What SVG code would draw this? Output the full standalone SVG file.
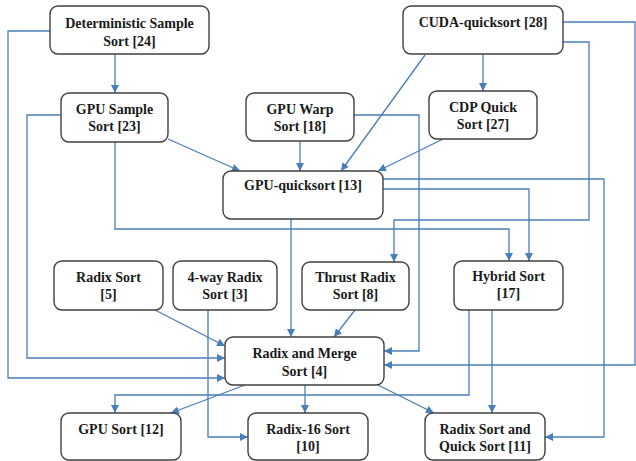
<svg xmlns="http://www.w3.org/2000/svg" width="636" height="461" viewBox="0 0 636 461">
<style>
.n rect{fill:#fff;stroke:#404040;stroke-width:1.4}
.n text{font-family:"Liberation Serif","Times New Roman",serif;font-weight:bold;font-size:14px;fill:#1a1a1a;text-anchor:middle}
.e path{fill:none;stroke:#4a7ebb;stroke-width:1.3}
</style>
<defs>
<marker id="a" markerUnits="userSpaceOnUse" markerWidth="9" markerHeight="8" refX="8" refY="4" orient="auto">
<path d="M0,0 L8,4 L0,8 z" fill="#4a7ebb"/>
</marker>
</defs>
<rect width="636" height="461" fill="#fff"/>
<g class="e">
<path d="M115,54 V93" marker-end="url(#a)"/>
<path d="M50,31 H8 V378 H225" marker-end="url(#a)"/>
<path d="M61,115 H27 V358 H225" marker-end="url(#a)"/>
<path d="M115,142 V229 H509 V261" marker-end="url(#a)"/>
<path d="M168,139 L240,171" marker-end="url(#a)"/>
<path d="M300,141 V171" marker-end="url(#a)"/>
<path d="M354,115 H419 V351 H384" marker-end="url(#a)"/>
<path d="M483,54 V91" marker-end="url(#a)"/>
<path d="M425,55 L341,171" marker-end="url(#a)"/>
<path d="M443,139 L378,171" marker-end="url(#a)"/>
<path d="M563,22 H635 V365 H384" marker-end="url(#a)"/>
<path d="M563,42 H589 V220 H394 V262" marker-end="url(#a)"/>
<path d="M383,179 H604 V437 H545" marker-end="url(#a)"/>
<path d="M383,189 H529 V261" marker-end="url(#a)"/>
<path d="M291,219 V337" marker-end="url(#a)"/>
<path d="M155,310 L225,346" marker-end="url(#a)"/>
<path d="M208,310 V437 H248" marker-end="url(#a)"/>
<path d="M355,310 L334,337" marker-end="url(#a)"/>
<path d="M469,310 V395 H115 V413" marker-end="url(#a)"/>
<path d="M492,310 V413" marker-end="url(#a)"/>
<path d="M245,385 L171,413" marker-end="url(#a)"/>
<path d="M305,385 V413" marker-end="url(#a)"/>
<path d="M378,385 L434,413" marker-end="url(#a)"/>
</g>
<g id="det" class="n"><rect x="50" y="6" width="159" height="48" rx="8"/><text x="129.5" y="28">Deterministic Sample</text><text x="129.5" y="46">Sort [24]</text></g>
<g id="gpusample" class="n"><rect x="61" y="93" width="107" height="49" rx="8"/><text x="114.5" y="114">GPU Sample</text><text x="114.5" y="131">Sort [23]</text></g>
<g id="gpuwarp" class="n"><rect x="246" y="93" width="108" height="48" rx="8"/><text x="300" y="114">GPU Warp</text><text x="300" y="131">Sort [18]</text></g>
<g id="cuda" class="n"><rect x="403" y="6" width="160" height="48" rx="8"/><text x="483" y="27">CUDA-quicksort [28]</text></g>
<g id="cdp" class="n"><rect x="429" y="91" width="108" height="48" rx="8"/><text x="483" y="112">CDP Quick</text><text x="483" y="129">Sort [27]</text></g>
<g id="gpuquick" class="n"><rect x="223" y="171" width="160" height="48" rx="8"/><text x="303" y="190">GPU-quicksort [13]</text></g>
<g id="radix5" class="n"><rect x="54" y="261" width="109" height="49" rx="8"/><text x="108.5" y="282">Radix Sort</text><text x="108.5" y="299">[5]</text></g>
<g id="fourway" class="n"><rect x="173" y="261" width="104" height="49" rx="8"/><text x="225" y="282">4-way Radix</text><text x="225" y="299">Sort [3]</text></g>
<g id="thrust" class="n"><rect x="302" y="262" width="107" height="48" rx="8"/><text x="355.5" y="282">Thrust Radix</text><text x="355.5" y="299">Sort [8]</text></g>
<g id="hybrid" class="n"><rect x="454" y="261" width="109" height="49" rx="8"/><text x="508.5" y="281">Hybrid Sort</text><text x="508.5" y="298">[17]</text></g>
<g id="radixmerge" class="n"><rect x="225" y="337" width="159" height="48" rx="8"/><text x="304.5" y="358">Radix and Merge</text><text x="304.5" y="376">Sort [4]</text></g>
<g id="gpusort" class="n"><rect x="61" y="413" width="120" height="47" rx="8"/><text x="121" y="434">GPU Sort [12]</text></g>
<g id="radix16" class="n"><rect x="248" y="413" width="120" height="47" rx="8"/><text x="308" y="434">Radix-16 Sort</text><text x="308" y="451">[10]</text></g>
<g id="rsqs" class="n"><rect x="425" y="413" width="120" height="47" rx="8"/><text x="485" y="434">Radix Sort and</text><text x="485" y="451">Quick Sort [11]</text></g>
</svg>
